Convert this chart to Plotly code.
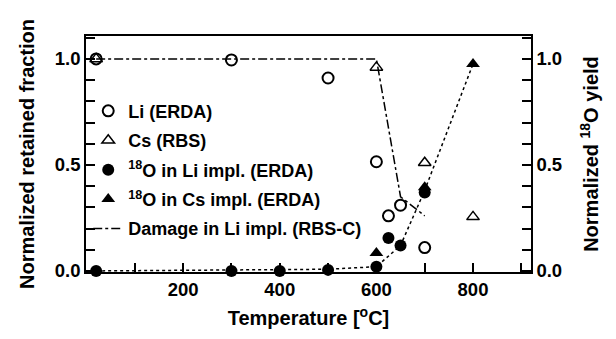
import plotly.graph_objects as go

# Data
li_T = [20, 300, 500, 600, 625, 650, 700]
li_frac = [1.0, 0.995, 0.91, 0.515, 0.26, 0.31, 0.11]

cs_T = [20, 600, 700, 800]
cs_frac = [1.0, 0.96, 0.51, 0.255]

o_li_T = [20, 300, 400, 500, 600, 625, 650, 700]
o_li_yield = [0.0, 0.0, 0.0, 0.005, 0.02, 0.155, 0.12, 0.37]

o_cs_T = [600, 700, 800]
o_cs_yield = [0.085, 0.395, 0.976]

dmg_T = [20, 600, 650, 700]
dmg_val = [1.0, 1.0, 0.35, 0.26]

fit_T = [20, 500, 600, 650, 700, 800]
fit_val = [0.0, 0.008, 0.02, 0.12, 0.38, 0.976]

x_ticks = [200, 400, 600, 800]
y_ticks = [0.0, 0.5, 1.0]

FONT = "Liberation Sans, Arial, Helvetica, sans-serif"

fig = go.Figure()

fig.add_trace(go.Scatter(
    x=dmg_T, y=dmg_val, mode="lines", name="Damage in Li impl. (RBS-C)",
    legendgroup="g5", line=dict(color="black", width=1.5, dash="dashdot"), legendrank=5))
fig.add_trace(go.Scatter(
    x=fit_T, y=fit_val, mode="lines", showlegend=False, yaxis="y2",
    line=dict(color="black", width=1.5, dash="dot")))

fig.add_trace(go.Scatter(
    x=li_T, y=li_frac, mode="markers", name="Li (ERDA)", legendrank=1, legendgroup="g1",
    marker=dict(symbol="circle-open", size=11, color="black", line=dict(width=2)),
    cliponaxis=False))
fig.add_trace(go.Scatter(
    x=cs_T, y=cs_frac, mode="markers", name="Cs (RBS)", legendrank=2, legendgroup="g2",
    marker=dict(symbol="triangle-up-open", size=11, color="black", line=dict(width=1.5)),
    cliponaxis=False))
fig.add_trace(go.Scatter(
    x=o_li_T, y=o_li_yield, mode="markers", yaxis="y2",
    name="<sup>18</sup>O in Li impl. (ERDA)", legendrank=3, legendgroup="g3",
    marker=dict(symbol="circle", size=12, color="black"),
    cliponaxis=False))
fig.add_trace(go.Scatter(
    x=o_cs_T, y=o_cs_yield, mode="markers", yaxis="y2",
    name="<sup>18</sup>O in Cs impl. (ERDA)", legendrank=4, legendgroup="g4",
    marker=dict(symbol="triangle-up", size=12, color="black"),
    cliponaxis=False))

yr = [-0.005, 1.108]
axis_common = dict(
    showgrid=False, zeroline=False, showline=True, linecolor="black", linewidth=1.5,
    ticks="inside", ticklen=9, tickwidth=1.5, tickcolor="black",
    tickfont=dict(size=18.5, color="black"),
)

fig.update_layout(
    width=616, height=339,
    margin=dict(l=86, r=85, t=36, b=67),
    paper_bgcolor="white", plot_bgcolor="white",
    font=dict(family=FONT, color="black", size=18, weight="bold"),
    showlegend=True,
    legend=dict(x=0.005, y=0.76, xanchor="left", yanchor="top",
                bgcolor="rgba(0,0,0,0)", font=dict(size=18),
                tracegroupgap=3, itemwidth=30, groupclick="toggleitem"),
    xaxis=dict(
        range=[-1, 920], tickmode="array", tickvals=x_ticks,
        minor=dict(dtick=100, tick0=0, ticks="inside", ticklen=9, tickwidth=1.5, tickcolor="black"),
        mirror=True,
        title=dict(text="Temperature [<sup>o</sup>C]", font=dict(size=20), standoff=12),
        **axis_common),
    yaxis=dict(
        range=yr, tickmode="array", tickvals=y_ticks, tickformat=".1f",
        minor=dict(dtick=0.1, tick0=0, ticks="inside", ticklen=9, tickwidth=1.5, tickcolor="black"),
        title=dict(text="Normalized retained fraction", font=dict(size=20), standoff=15),
        **axis_common),
    yaxis2=dict(
        range=yr, overlaying="y", side="right", tickmode="array",
        tickvals=y_ticks, tickformat=".1f",
        minor=dict(dtick=0.1, tick0=0, ticks="inside", ticklen=9, tickwidth=1.5, tickcolor="black"),
        title=dict(text="Normalized <sup>18</sup>O yield", font=dict(size=20), standoff=23),
        **axis_common),
)

fig.write_html("out.html")
